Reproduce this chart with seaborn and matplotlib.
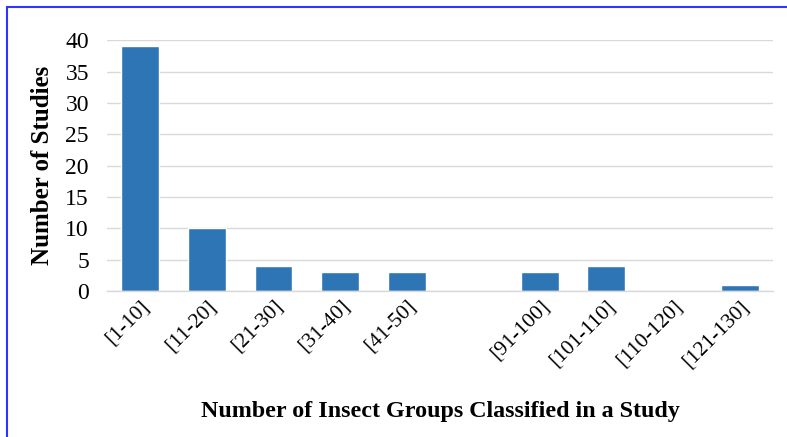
import matplotlib
matplotlib.use("Agg")
import matplotlib.pyplot as plt
from matplotlib.lines import Line2D
import pandas as pd
import seaborn as sns

# data
categories = ["[1-10]", "[11-20]", "[21-30]", "[31-40]", "[41-50]", "",
              "[91-100]", "[101-110]", "[110-120]", "[121-130]"]
studies = [39, 10, 4, 3, 3, 0, 3, 4, 0, 1]
y_ticks = [0, 5, 10, 15, 20, 25, 30, 35, 40]

df = pd.DataFrame({"group": categories, "n": studies})

sns.set_theme(style="white")
plt.rcParams["font.family"] = ["Liberation Serif", "DejaVu Serif"]
plt.rcParams["text.color"] = "black"
plt.rcParams["axes.labelcolor"] = "black"

fig = plt.figure(figsize=(7.87, 4.37), dpi=100)
ax = fig.add_axes([0.136, 0.334, 0.846, 0.574])

sns.barplot(data=df, x="group", y="n", color="#2E75B6", saturation=1,
            width=0.57, ax=ax)

ax.set_ylim(0, 40)
ax.set_yticks(y_ticks)
ax.yaxis.grid(True, color="#D9D9D9", linewidth=1)
ax.set_axisbelow(True)
for side in ["top", "right", "left"]:
    ax.spines[side].set_visible(False)
ax.spines["bottom"].set_color("#D9D9D9")
ax.spines["bottom"].set_linewidth(1)

ax.tick_params(axis="y", labelsize=17, length=0, pad=13, labelcolor="black")
ax.tick_params(axis="x", labelsize=15.5, length=0, pad=4, labelcolor="black")
plt.setp(ax.get_xticklabels(), rotation=45, ha="right",
         rotation_mode="anchor")

ax.set_ylabel("Number of Studies", fontsize=18, fontweight="bold",
              labelpad=8, color="black")
ax.set_xlabel("Number of Insect Groups Classified in a Study", fontsize=17.3,
              fontweight="bold", labelpad=22, color="black")

# blue frame around the figure (left and top edges visible)
fig.add_artist(Line2D([6.5 / 787, 6.5 / 787], [0, 1 - 6.5 / 437],
                      color="#3333FF", linewidth=1.5))
fig.add_artist(Line2D([6.5 / 787, 1], [1 - 6.5 / 437, 1 - 6.5 / 437],
                      color="#3333FF", linewidth=1.5))

fig.savefig("out.png", dpi=100)
